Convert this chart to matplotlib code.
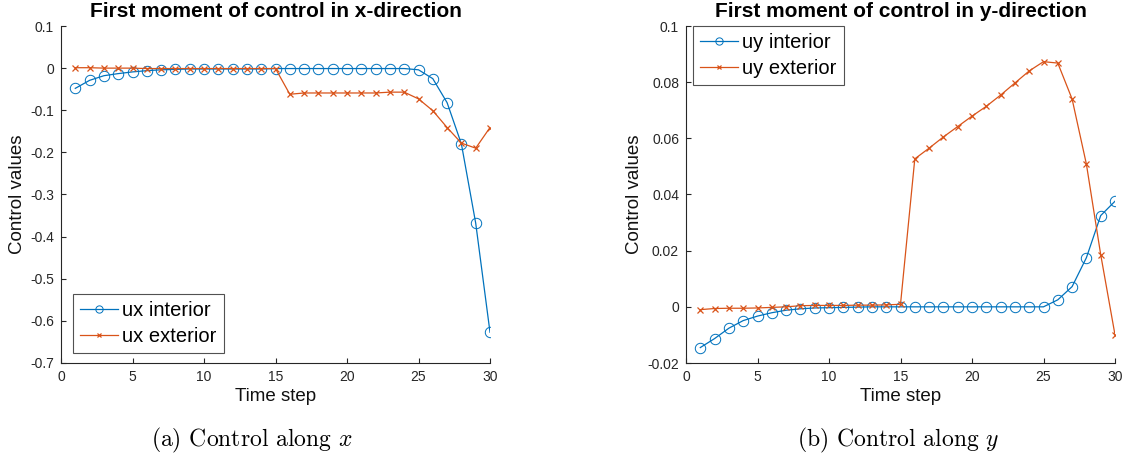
import numpy as np
import matplotlib
matplotlib.use('Agg')
import matplotlib.pyplot as plt
from matplotlib.ticker import FuncFormatter

plt.rcParams['font.family'] = ['Liberation Sans', 'DejaVu Sans']
plt.rcParams['mathtext.fontset'] = 'cm'
plt.rcParams['axes.unicode_minus'] = False

# data
steps = np.arange(1, 31)

ux_interior = [-0.048, -0.029, -0.018, -0.013, -0.009, -0.006, -0.004, -0.003,
               -0.002, -0.002, -0.002, -0.002, -0.002, -0.002, -0.001, -0.001,
               -0.001, -0.001, -0.001, -0.001, -0.001, -0.001, -0.001, -0.001,
               -0.004, -0.025, -0.082, -0.180, -0.368, -0.627]
ux_exterior = [0.001, 0.001, 0.0, 0.0, 0.0, -0.001, -0.001, -0.001,
               -0.001, -0.001, -0.001, -0.001, -0.001, -0.001, -0.001, -0.062,
               -0.059, -0.059, -0.059, -0.059, -0.059, -0.059, -0.057, -0.057,
               -0.073, -0.101, -0.141, -0.178, -0.190, -0.141]

uy_interior = [-0.0145, -0.0113, -0.0076, -0.0049, -0.0033, -0.0021, -0.0012, -0.0007,
               -0.0004, -0.0003, -0.0002, -0.0001, 0.0, 0.0, 0.0, 0.0,
               0.0, 0.0, 0.0, 0.0, 0.0, 0.0, 0.0, 0.0,
               0.0, 0.0025, 0.0072, 0.0175, 0.0325, 0.0376]
uy_exterior = [-0.0010, -0.0006, -0.0005, -0.0005, -0.0004, -0.0002, 0.0, 0.0004,
               0.0005, 0.0005, 0.0005, 0.0006, 0.0006, 0.0007, 0.0009, 0.0527,
               0.0565, 0.0605, 0.0642, 0.0679, 0.0714, 0.0754, 0.0797, 0.0840,
               0.0873, 0.0868, 0.0740, 0.0508, 0.0186, -0.0100]

blue = '#0072BD'
orange = '#D95319'
gray = '#262626'

fig = plt.figure(figsize=(11.28, 4.61), dpi=100)
ax0 = fig.add_axes([61 / 1128, 98 / 461, 429 / 1128, 337 / 461])
ax1 = fig.add_axes([686 / 1128, 98 / 461, 429 / 1128, 337 / 461])

fmt = FuncFormatter(lambda v, p: '%g' % (round(v, 6) + 0.0))


def style(ax, yticks):
    ax.set_xlim(0, 30)
    ax.set_xticks(np.arange(0, 31, 5))
    ax.set_yticks(yticks)
    ax.set_ylim(yticks[0], yticks[-1])
    ax.yaxis.set_major_formatter(fmt)
    for s in ['top', 'right']:
        ax.spines[s].set_visible(False)
    for s in ['left', 'bottom']:
        ax.spines[s].set_color(gray)
        ax.spines[s].set_linewidth(0.8)
    ax.tick_params(direction='in', length=3.5, width=0.8, color=gray,
                   labelcolor=gray, labelsize=10, pad=5)
    ax.set_xlabel('Time step', fontsize=13.5, color='#111111', labelpad=3)
    ax.set_ylabel('Control values', fontsize=13.5, color='#111111', labelpad=3)


def draw(ax, y1, y2, names):
    ax.plot(steps, y1, color=blue, lw=0.9, marker='o', ms=7.5,
            mfc='none', mew=0.7, label=names[0])
    ax.plot(steps, y2, color=orange, lw=0.9, marker='x', ms=5,
            mew=0.9, label=names[1])


def legend(ax, **kw):
    leg = ax.legend(borderaxespad=0, fontsize=14.5, fancybox=False,
                    edgecolor=gray, handlelength=1.9, handletextpad=0.2,
                    borderpad=0.35, labelspacing=0.35, markerscale=0.7, **kw)
    leg.get_frame().set_linewidth(0.8)


draw(ax0, ux_interior, ux_exterior, ['ux interior', 'ux exterior'])
style(ax0, np.round(np.arange(-0.7, 0.11, 0.1), 2))
ax0.set_title('First moment of control in x-direction', fontsize=15,
              fontweight='bold', pad=6.5)
legend(ax0, loc='lower left', bbox_to_anchor=(0.028, 0.03))

draw(ax1, uy_interior, uy_exterior, ['uy interior', 'uy exterior'])
style(ax1, np.round(np.arange(-0.02, 0.101, 0.02), 3))
ax1.set_title('First moment of control in y-direction', fontsize=15,
              fontweight='bold', pad=6.5)
legend(ax1, loc='upper left', bbox_to_anchor=(0.016, 1.0))

# sub-figure captions
fig.text(252 / 1128, 0.045, '(a) Control along $x$', family='cmr10',
         fontsize=17, ha='center', va='center')
fig.text(898 / 1128, 0.045, '(b) Control along $y$', family='cmr10',
         fontsize=17, ha='center', va='center')

fig.savefig('out.png', dpi=100)
